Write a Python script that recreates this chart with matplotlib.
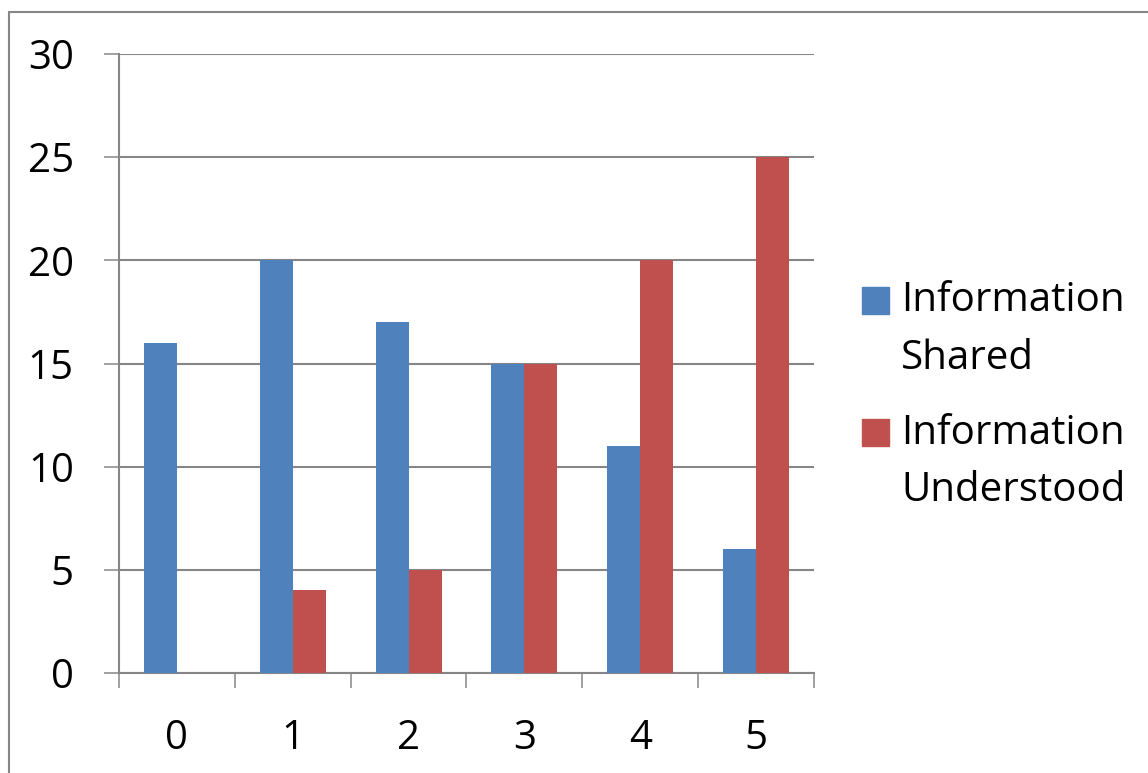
import matplotlib
matplotlib.use("Agg")
import matplotlib.pyplot as plt
from matplotlib.patches import Rectangle
import numpy as np

categories = ["0", "1", "2", "3", "4", "5"]
shared = [16, 20, 17, 15, 11, 6]
understood = [0, 4, 5, 15, 20, 25]
series_names = ["Information\nShared", "Information\nUnderstood"]
colors = ["#4F81BD", "#C0504D"]
yticks = [0, 5, 10, 15, 20, 25, 30]

plt.rcParams['font.family'] = ['Open Sans', 'DejaVu Sans']
FS = 29
W, H = 1148, 773
fig = plt.figure(figsize=(W / 100, H / 100), dpi=100)
ax = fig.add_axes([119 / W, 1 - 673 / H, (814 - 119) / W, (673 - 54) / H])

x = np.arange(len(categories))
bw = 0.285
ax.bar(x - bw / 2, shared, width=bw, color=colors[0], zorder=3)
ax.bar(x + bw / 2, understood, width=bw, color=colors[1], zorder=3)

ax.set_xlim(-0.5, len(categories) - 0.5)
ax.set_ylim(0, 30)
ax.set_yticks(yticks)
ax.set_yticklabels([str(v) for v in yticks])
ax.set_xticks(x)
ax.set_xticklabels(categories)
ax.xaxis.set_minor_locator(matplotlib.ticker.FixedLocator(np.arange(-0.5, len(categories), 1)))

gc = "#868686"
ax.yaxis.grid(True, color=gc, linewidth=1.5, zorder=0)
for s in ["top", "right"]:
    ax.spines[s].set_visible(False)
for s in ["left", "bottom"]:
    ax.spines[s].set_color(gc)
    ax.spines[s].set_linewidth(1.5)
ax.tick_params(axis="y", direction="out", length=10.5, width=1.1, color=gc, pad=22, labelsize=FS)
ax.tick_params(axis="x", which="major", length=0, pad=33, labelsize=FS)
ax.tick_params(axis="x", which="minor", direction="out", length=11, width=1.1, color=gc)

# outer frame
fig.patches.append(Rectangle((9 / W, -0.1), 1.2, 1.1 - 12 / H, transform=fig.transFigure,
                             fill=False, edgecolor=gc, linewidth=1.5))

# legend (manual)
sq = 27
item_tops = [287, 419]
for name, col, top in zip(series_names, colors, item_tops):
    fig.patches.append(Rectangle((862 / W, 1 - (top + sq) / H), sq / W, sq / H,
                                 transform=fig.transFigure, color=col))
    fig.text(901 / W, 1 - (top - 6) / H, name, fontsize=FS, va="top", ha="left",
             linespacing=1.56)

fig.savefig("out.png", dpi=100)
